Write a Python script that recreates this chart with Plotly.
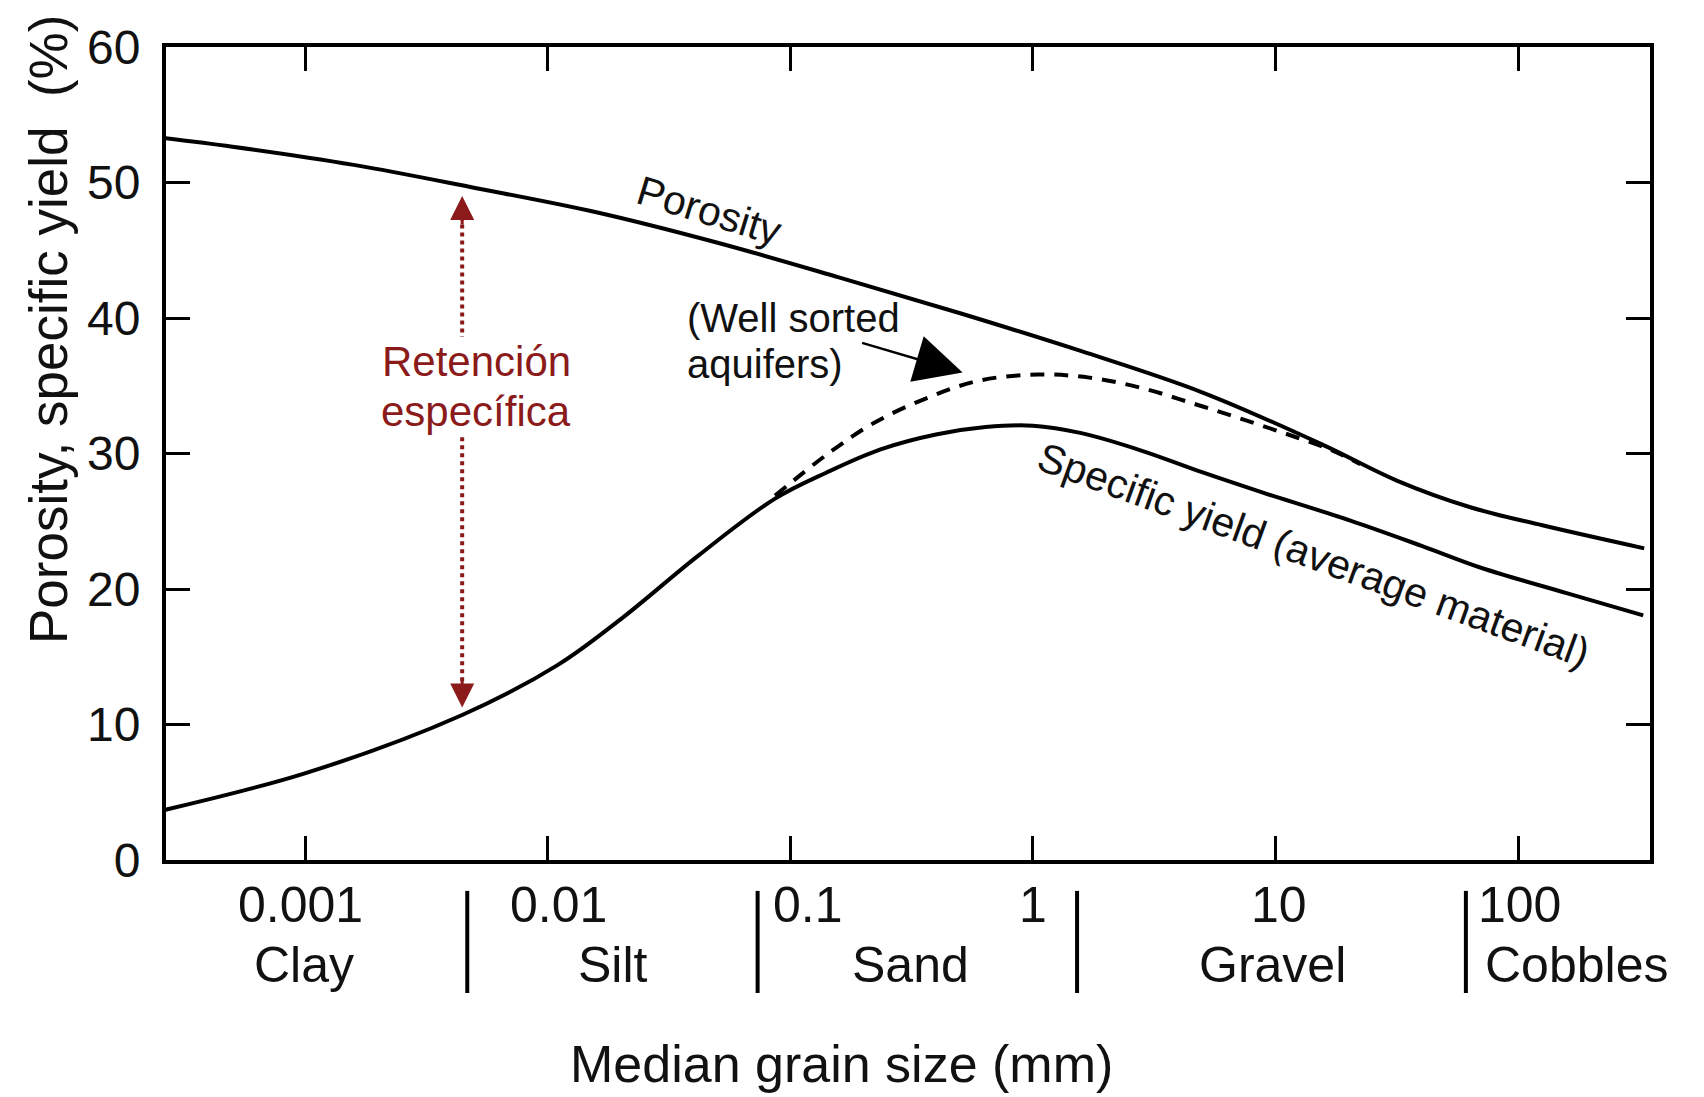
import plotly.graph_objects as go

# ---- data (x = log10 of median grain size in mm, y = %) ----
por_logd = [-3.78, -3.3, -2.8, -2.3, -1.8, -1.3, -0.8, -0.3, 0.2, 0.7, 1.2, 1.5, 1.8, 2.1, 2.52]
por_val = [53.7, 52.64, 51.3, 49.6, 47.8, 45.55, 43.0, 40.35, 37.55, 34.5, 30.6, 28.0, 26.05, 24.7, 23.0]

sy_logd = [-3.768, -3.005, -2.353, -1.960, -1.691, -1.377, -1.063, -0.85, -0.628, -0.4, -0.195, 0.0,
           0.2, 0.45, 0.7, 0.942, 1.309, 1.6, 1.85, 2.2, 2.516]
sy_val = [2.92, 6.38, 10.70, 14.38, 17.89, 22.5, 26.67, 28.6, 30.3, 31.4, 31.95, 32.05,
          31.5, 30.2, 28.6, 27.15, 25.05, 23.2, 21.55, 19.7, 18.05]

ws_logd = [-1.063, -0.844, -0.654, -0.437, -0.221, 0.021, 0.233, 0.445, 0.657, 0.869, 1.085, 1.238, 1.350]
ws_val = [26.89, 30.0, 32.27, 34.09, 35.38, 35.83, 35.6, 34.85, 33.71, 32.5, 31.2, 30.2, 29.2]

tick_vals = [0.001, 0.01, 0.1, 1, 10, 100]
tick_text = ["0.001", "0.01", "0.1", "1", "10", "100"]
tick_text_pos = [-3.021, -1.955, -0.926, 0.0, 1.013, 2.004]
class_names = ["Clay", "Silt", "Sand", "Gravel", "Cobbles"]
class_pos = [-3.005, -1.731, -0.506, 0.987, 2.242]
class_bounds = [-2.332, -1.135, 0.182, 1.785]

FONT = "Liberation Sans, Arial, sans-serif"
INK = "#111111"
RED = "#8B1A1A"

def to_mm(v):
    return [10 ** a for a in v]

fig = go.Figure()
fig.add_trace(go.Scatter(x=to_mm(por_logd), y=por_val, mode="lines",
                         line=dict(color="black", width=4, shape="spline", smoothing=1.0),
                         name="Porosity", showlegend=False, hoverinfo="skip"))
fig.add_trace(go.Scatter(x=to_mm(sy_logd), y=sy_val, mode="lines",
                         line=dict(color="black", width=4, shape="spline", smoothing=1.0),
                         name="Specific yield", showlegend=False, hoverinfo="skip"))
fig.add_trace(go.Scatter(x=to_mm(ws_logd), y=ws_val, mode="lines",
                         line=dict(color="black", width=4, dash="14px,10px", shape="spline", smoothing=1.0),
                         name="Well sorted aquifers", showlegend=False, hoverinfo="skip"))

annotations = []
# x tick numbers and class names
for t, p in zip(tick_text, tick_text_pos):
    annotations.append(dict(x=p, y=-0.0554, xref="x", yref="paper", text=t, showarrow=False,
                            xanchor="center", yanchor="middle", font=dict(size=50, color=INK, family=FONT)))
for t, p in zip(class_names, class_pos):
    annotations.append(dict(x=p, y=-0.129, xref="x", yref="paper", text=t, showarrow=False,
                            xanchor="center", yanchor="middle", font=dict(size=50, color=INK, family=FONT)))
# axis titles
annotations.append(dict(x=0.455, y=-0.2505, xref="paper", yref="paper", text="Median grain size (mm)",
                        showarrow=False, xanchor="center", yanchor="middle",
                        font=dict(size=52, color=INK, family=FONT)))
annotations.append(dict(x=-0.0788, y=0.652, xref="paper", yref="paper", text="Porosity, specific yield  (%)",
                        showarrow=False, xanchor="center", yanchor="middle", textangle=-90,
                        font=dict(size=53, color=INK, family=FONT)))
# curve labels
annotations.append(dict(x=-1.332, y=47.9, xref="x", yref="y", text="Porosity", showarrow=False,
                        textangle=17, xanchor="center", yanchor="middle",
                        font=dict(size=41, color=INK, family=FONT)))
annotations.append(dict(x=1.157, y=22.5, xref="x", yref="y", text="Specific yield (average material)",
                        showarrow=False, textangle=20, xanchor="center", yanchor="middle",
                        font=dict(size=41, color=INK, family=FONT)))
annotations.append(dict(x=-1.435, y=40.02, xref="x", yref="y", text="(Well sorted", showarrow=False,
                        xanchor="left", yanchor="middle", font=dict(size=40, color=INK, family=FONT)))
annotations.append(dict(x=-1.435, y=36.58, xref="x", yref="y", text="aquifers)", showarrow=False,
                        xanchor="left", yanchor="middle", font=dict(size=40, color=INK, family=FONT)))
# arrow to well sorted curve
annotations.append(dict(x=-0.290, y=35.98, xref="x", yref="y", text="", showarrow=True,
                        ax=-102, ay=-30, axref="pixel", ayref="pixel", font=dict(size=2),
                        arrowhead=2, arrowsize=3.8, arrowwidth=2.5, arrowcolor="black", standoff=0))
# Retención específica
annotations.append(dict(x=-2.295, y=36.8, xref="x", yref="y", text="Retención", showarrow=False,
                        xanchor="center", yanchor="middle", font=dict(size=42, color=RED, family=FONT)))
annotations.append(dict(x=-2.295, y=33.1, xref="x", yref="y", text="específica", showarrow=False,
                        xanchor="center", yanchor="middle", font=dict(size=42, color=RED, family=FONT)))
annotations.append(dict(x=-2.353, y=49.0, xref="x", yref="y", text="", showarrow=True,
                        ax=0, ay=30, axref="pixel", ayref="pixel", font=dict(size=2),
                        arrowhead=2, arrowsize=1.6, arrowwidth=3, arrowcolor=RED, standoff=0))
annotations.append(dict(x=-2.353, y=11.25, xref="x", yref="y", text="", showarrow=True,
                        ax=0, ay=-30, axref="pixel", ayref="pixel", font=dict(size=2),
                        arrowhead=2, arrowsize=1.6, arrowwidth=3, arrowcolor=RED, standoff=0))

shapes = []
for b in class_bounds:
    shapes.append(dict(type="line", xref="x", yref="paper", x0=10 ** b, x1=10 ** b, y0=-0.038, y1=-0.1636,
                       line=dict(color="black", width=4)))
shapes.append(dict(type="line", xref="x", yref="y", x0=10 ** -2.353, x1=10 ** -2.353, y0=47.5, y1=38.6,
                   line=dict(color=RED, width=4, dash="dot")))
shapes.append(dict(type="line", xref="x", yref="y", x0=10 ** -2.353, x1=10 ** -2.353, y0=31.2, y1=12.8,
                   line=dict(color=RED, width=4, dash="dot")))

# the page body has an 8px margin: shrink the figure by 8px so the plot area lands where the reference's is
fig.update_layout(
    width=1696, height=1089,
    margin=dict(l=158, r=54, t=39, b=237),
    paper_bgcolor="white", plot_bgcolor="white",
    showlegend=False,
    annotations=annotations,
    shapes=shapes,
    font=dict(family=FONT, color=INK),
)
fig.update_xaxes(type="log", range=[-3.574, 2.544], tickvals=tick_vals, ticktext=tick_text,
                 showticklabels=False, ticks="inside", ticklen=24, tickwidth=3, tickcolor="black",
                 showline=True, linewidth=4, linecolor="black", mirror="ticks",
                 showgrid=False, zeroline=False)
fig.update_yaxes(range=[0, 60], tickvals=[0, 10, 20, 30, 40, 50, 60],
                 ticks="inside", ticklen=24, tickwidth=3, tickcolor="black",
                 showline=True, linewidth=4, linecolor="black", mirror="ticks",
                 showgrid=False, zeroline=False, ticklabelstandoff=12,
                 tickfont=dict(size=48, color=INK, family=FONT))

fig.write_html("out.html")
